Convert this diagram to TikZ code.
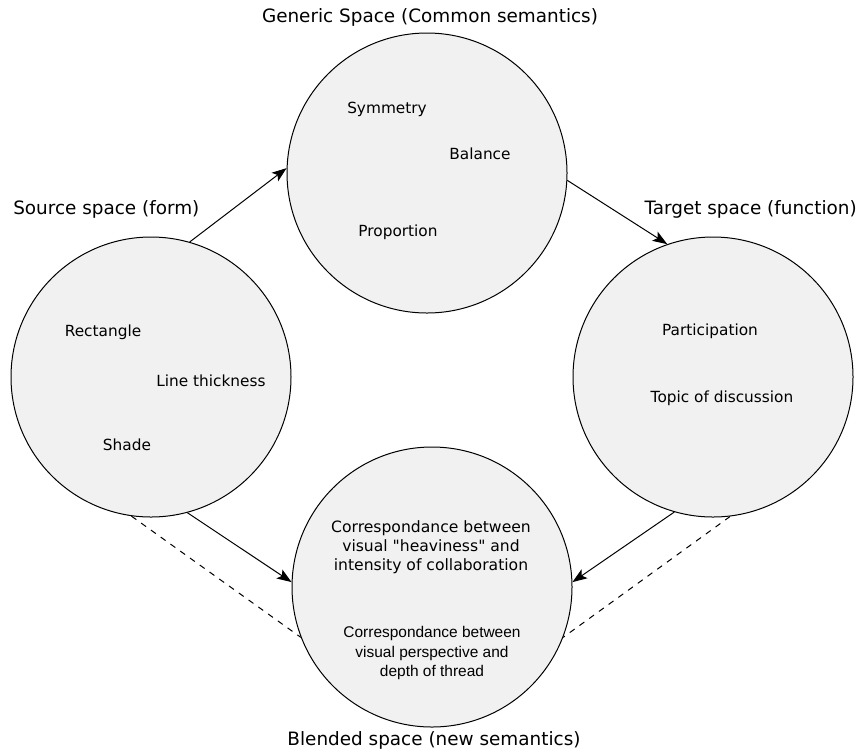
\documentclass[tikz,border=0pt]{standalone}
\usepackage{fontspec}
\setmainfont{DejaVu Sans}
\newfontfamily\arialfont{Liberation Sans}
\usetikzlibrary{arrows.meta}
\definecolor{circfill}{HTML}{F1F1F1}
\begin{document}
\begin{tikzpicture}[x=0.75pt,y=-0.75pt,
  space/.style={circle,draw=black,line width=0.75pt,fill=circfill,minimum size=210pt,inner sep=0pt},
  caption/.style={font=\fontsize{13.8}{16}\selectfont,inner sep=0pt},
  item/.style={font=\fontsize{11.5}{14}\selectfont,inner sep=0pt},
  blendtext/.style={font=\fontsize{11.7}{14.25}\selectfont,align=center,inner sep=0pt},
  blendtextb/.style={font=\arialfont\fontsize{11.6}{14.6}\selectfont,align=center,inner sep=0pt},
  conn/.style={line width=0.75pt,-{Stealth[length=11pt,width=8pt,inset=2.5pt]}},
  dashconn/.style={line width=0.75pt,dashed,dash pattern=on 4.5pt off 4.5pt}]
\useasboundingbox (0,0) rectangle (859,751);
\node[space] (gen) at (427,173) {};
\node[space] (src) at (151,377) {};
\node[space] (tgt) at (713,377) {};
\node[space] (bld) at (432,587) {};
% captions
\node[caption] (capgen) at (430,17) {Generic Space (Common semantics)};
\node[caption,anchor=west] (capsrc) at (13,209) {Source space (form)};
\node[caption,anchor=east] (captgt) at (857,209) {Target space (function)};
\node[caption] (capbld) at (434,740) {Blended space (new semantics)};
% generic items
\node[item] (sym) at (387,109) {Symmetry};
\node[item] (bal) at (480,154) {Balance};
\node[item] (pro) at (398,232) {Proportion};
% source items
\node[item] (rect) at (103,332) {Rectangle};
\node[item] (line) at (211,381) {Line thickness};
\node[item] (shade) at (127,445) {Shade};
% target items
\node[item] (part) at (710,331) {Participation};
\node[item] (topic) at (722,398) {Topic of discussion};
% blended items
\node[blendtext] (b1) at (431,547) {Correspondance between\\visual \textquotedbl heaviness\textquotedbl{} and\\intensity of collaboration};
\node[blendtextb] (b2) at (432,653) {Correspondance between\\visual perspective and\\depth of thread};
% connectors
\draw[conn] (src.74) -- (gen.178);
\draw[conn] (gen.-3) -- (tgt.109);
\draw[conn] (src.-75) -- (bld.178);
\draw[conn] (tgt.-106) -- (bld.2);
\draw[dashconn] (src.-98) -- (bld.201);
\draw[dashconn] (tgt.-83) -- (bld.-21);
\end{tikzpicture}
\end{document}
